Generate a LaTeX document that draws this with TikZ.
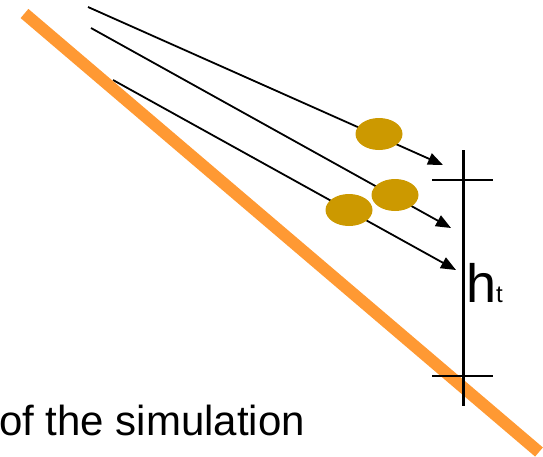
\documentclass[tikz,border=0pt]{standalone}
\usepackage{fontspec}
\setmainfont{Liberation Sans}
\usetikzlibrary{arrows.meta, shapes.geometric}
\definecolor{slope}{HTML}{FF9933}
\definecolor{grain}{HTML}{CC9900}
\tikzset{
  trail/.style={line width=1.8pt, -{Triangle[length=15pt,width=12pt]}},
  grainball/.style={ellipse, fill=grain, minimum width=47pt, minimum height=32pt, inner sep=0pt},
  tickmark/.style={line width=2.5pt}
}
\begin{document}
\begin{tikzpicture}[x=1pt, y=-1pt]
        \useasboundingbox (0,0) rectangle (543,456);

        % Trajectories
        \coordinate (s1) at (88,7);
        \coordinate (s2) at (91,28);
        \coordinate (s3) at (113,80);
        \coordinate (e1) at (443,165);
        \coordinate (e2) at (451,228);
        \coordinate (e3) at (456,270);
        \draw[trail] (s1) -- (e1);
        \draw[trail] (s2) -- (e2);
        \draw[trail] (s3) -- (e3);

        % Grains
        \node[grainball] (g1) at (379,134) {};
        \node[grainball] (g2) at (395,195) {};
        \node[grainball] (g3) at (349,210) {};

        % Slope
        \coordinate (top) at (24.5,13.5);
        \coordinate (foot) at (539,452);
        \draw[slope, line width=12pt] (top) -- (foot);

        % Height marker
        \coordinate (hup) at (463,150);
        \coordinate (hdown) at (463,406);
        \draw[line width=3pt] (hup) -- (hdown);
        \draw[tickmark] (432,180) -- (493,180);
        \draw[tickmark] (432,376) -- (493,376);
        \node[anchor=base west, inner sep=0pt] (ht) at (466,302)
          {\fontsize{54}{60}\selectfont h{\fontsize{24}{28}\selectfont t}};

        % Caption
        \node[anchor=base west, inner sep=0pt] (cap) at (-1,435)
          {\fontsize{42}{48}\selectfont of the simulation};
\end{tikzpicture}
\end{document}
